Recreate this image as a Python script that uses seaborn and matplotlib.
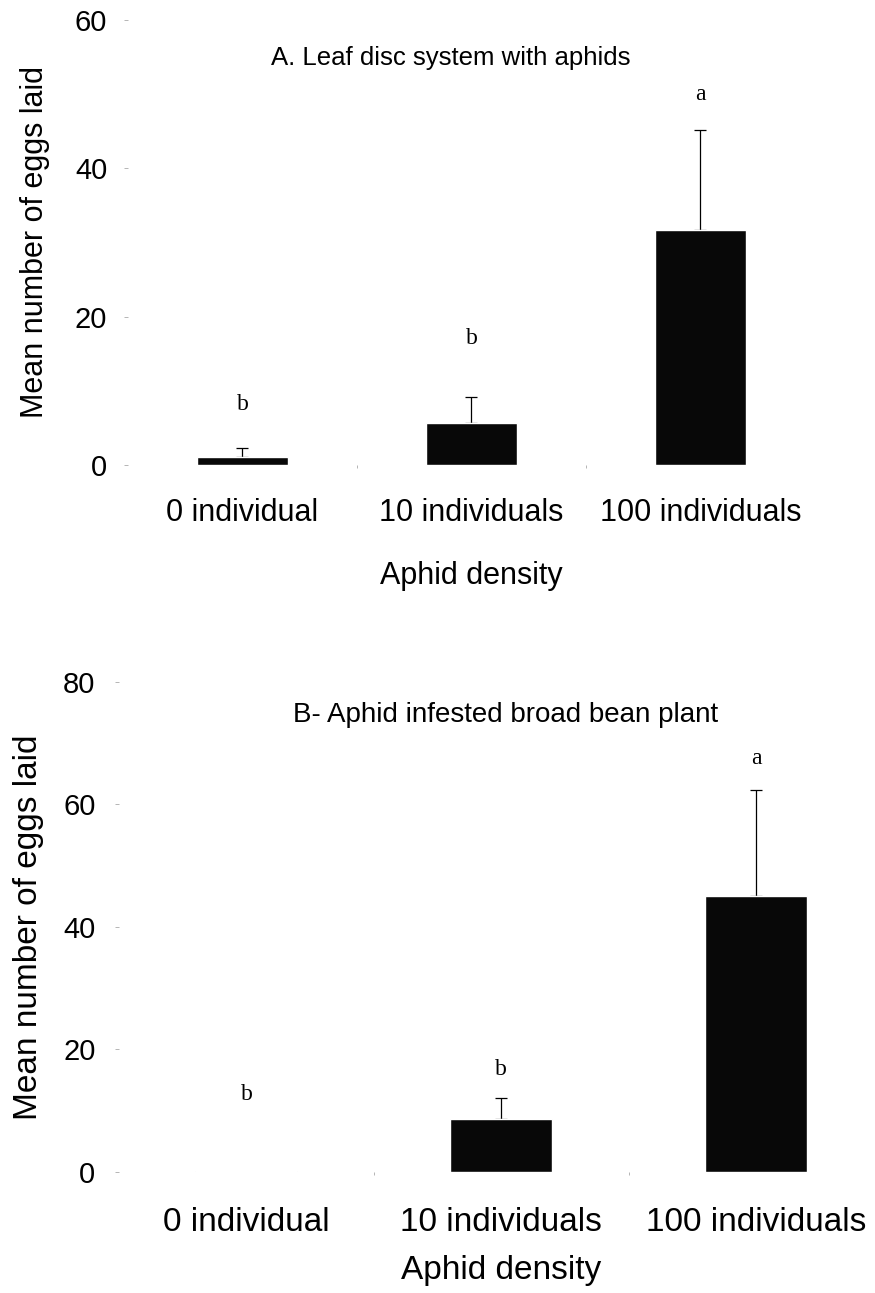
import pandas as pd
import numpy as np
import matplotlib
matplotlib.use("Agg")
import matplotlib.pyplot as plt
import seaborn as sns

# data
categories = ["0 individual", "10 individuals", "100 individuals"]

leaf_means = [1.1, 5.7, 31.7]
leaf_err = [1.2, 3.5, 13.4]
leaf_letters = ["b", "b", "a"]
leaf_letter_y = [8.1, 17.1, 49.9]

plant_means = [0.2, 8.7, 45.1]
plant_err = [0.0, 3.4, 17.2]
plant_letters = ["b", "b", "a"]
plant_letter_y = [12.6, 16.7, 67.5]

sns.set_style("white")
plt.rcParams['font.family'] = ['Liberation Sans', 'DejaVu Sans']
plt.rcParams['text.color'] = 'black'
plt.rcParams['axes.labelcolor'] = 'black'

fig = plt.figure(figsize=(8.75, 12.93), dpi=100)
ax_a = fig.add_axes([0.1463, 0.6404, 0.785, 0.3442])
ax_b = fig.add_axes([0.136, 0.0936, 0.874, 0.379])


def draw_panel(ax, means, err, letters, letter_y, ymax, title, title_xy, fs):
    df = pd.DataFrame({"density": categories, "eggs": means})
    sns.barplot(data=df, x="density", y="eggs", order=categories, color="#080808",
                width=0.4, saturation=1, errorbar=None, ax=ax, zorder=3)
    # upper error bars only
    x = np.arange(len(categories))
    e = np.array(err)
    mask = e > 0
    ax.errorbar(x[mask], np.array(means)[mask], yerr=[np.zeros(mask.sum()), e[mask]],
                fmt="none", ecolor="black", elinewidth=0.9, capsize=4, capthick=0.9, zorder=2)
    for xi, lab, ly in zip(x, letters, letter_y):
        ax.text(xi, ly, lab, ha="center", va="center", fontsize=fs["letter"],
                family=["Liberation Serif"], color="black")
    ax.text(title_xy[0], title_xy[1], title, transform=ax.transAxes, ha="center",
            va="center", fontsize=fs["title"], color="black")
    ax.set_xlim(-0.5, 2.5)
    ax.set_ylim(0, ymax)
    ax.set_yticks(np.arange(0, ymax + 1, 20))
    ax.set_xticks([0.5, 1.5], minor=True)
    sns.despine(ax=ax, left=True, bottom=True, top=True, right=True)
    ax.tick_params(axis="y", which="major", left=True, length=3, width=0.6, color="#aaaaaa",
                   labelsize=fs["ytick"], pad=fs["ypad"], labelcolor="black")
    ax.tick_params(axis="x", which="major", bottom=False, labelsize=fs["xtick"], pad=fs["xpad"],
                   labelcolor="black")
    ax.tick_params(axis="x", which="minor", bottom=True, length=2, width=0.6, color="#aaaaaa")
    ax.set_xlabel("Aphid density", fontsize=fs["xlabel"], labelpad=fs["xlabelpad"])
    ax.set_ylabel("Mean number of eggs laid", fontsize=fs["ylabel"], labelpad=fs["ylabelpad"])


draw_panel(ax_a, leaf_means, leaf_err, leaf_letters, leaf_letter_y, 60,
           "A. Leaf disc system with aphids", (0.47, 0.915),
           dict(letter=17, title=18.5, ytick=21, ypad=12, xtick=22, xpad=20,
                xlabel=22, xlabelpad=24, ylabel=22, ylabelpad=18))
draw_panel(ax_b, plant_means, plant_err, plant_letters, plant_letter_y, 80,
           "B- Aphid infested broad bean plant", (0.506, 0.933),
           dict(letter=17, title=20, ytick=21, ypad=14, xtick=24, xpad=22,
                xlabel=24, xlabelpad=12, ylabel=24, ylabelpad=14))

fig.savefig("out.png", dpi=100)
